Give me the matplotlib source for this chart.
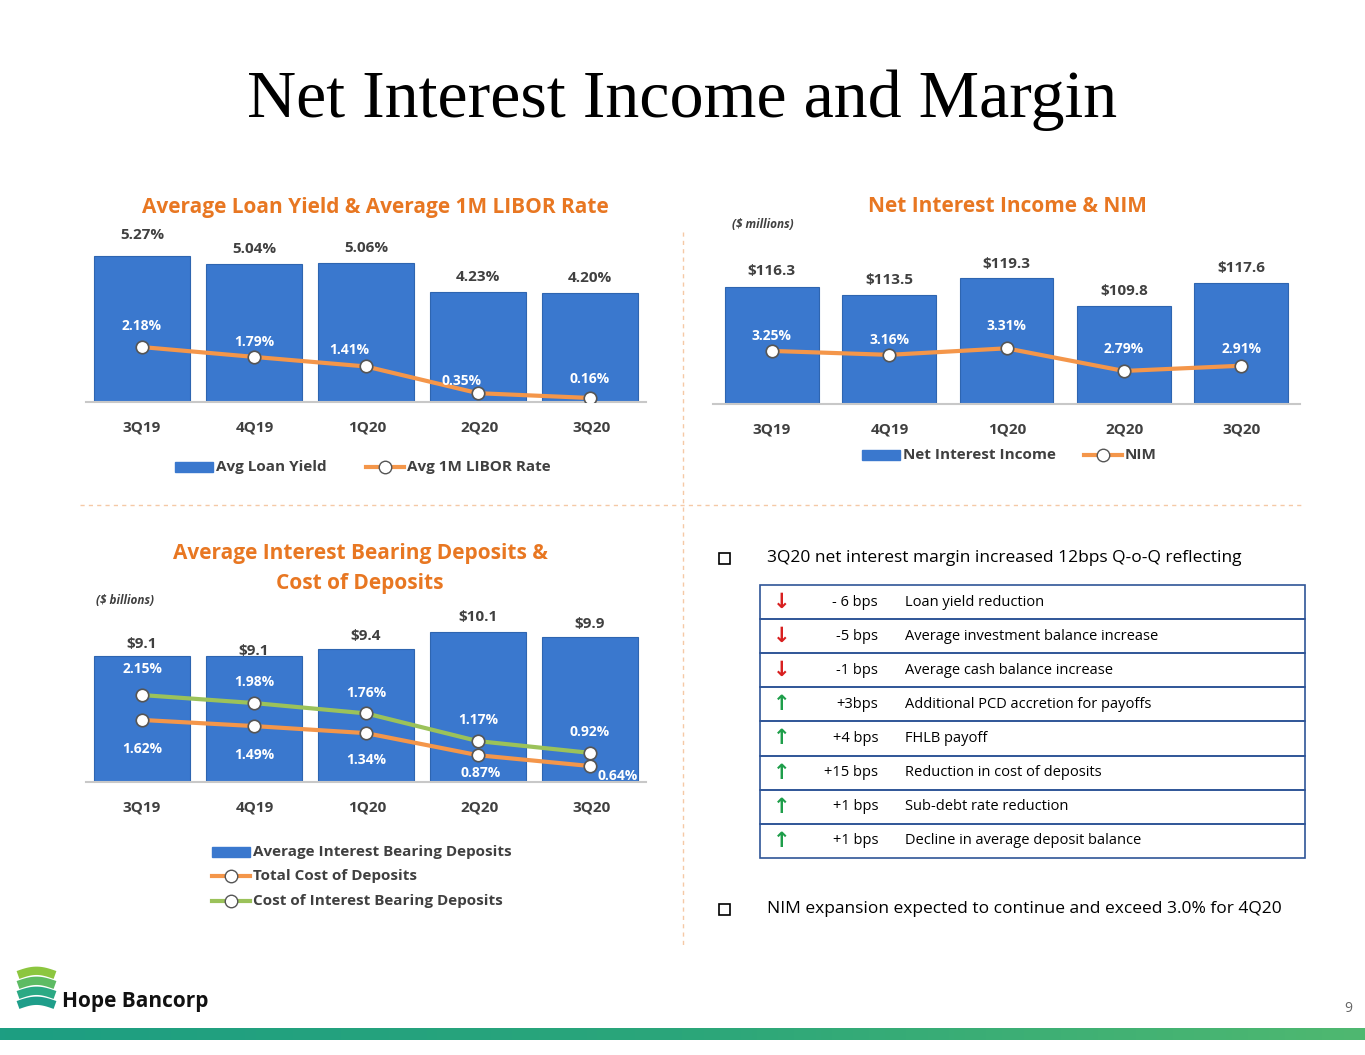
import matplotlib
matplotlib.use("Agg")
import matplotlib.pyplot as plt
import numpy as np
from matplotlib.lines import Line2D
from matplotlib.patches import Rectangle
from matplotlib.colors import LinearSegmentedColormap

quarters = ["3Q19", "4Q19", "1Q20", "2Q20", "3Q20"]
loan_yield = [5.27, 5.04, 5.06, 4.23, 4.20]
libor = [2.18, 1.79, 1.41, 0.35, 0.16]
nii = [116.3, 113.5, 119.3, 109.8, 117.6]
nim = [3.25, 3.16, 3.31, 2.79, 2.91]
deposits = [9.1, 9.1, 9.4, 10.1, 9.9]
total_cost = [1.62, 1.49, 1.34, 0.87, 0.64]
ib_cost = [2.15, 1.98, 1.76, 1.17, 0.92]
table_dir = ["down", "down", "down", "up", "up", "up", "up", "up"]
table_bps = ["- 6 bps", "-5 bps", "-1 bps", "+3bps", "+4 bps", "+15 bps", "+1 bps", "+1 bps"]
table_desc = ["Loan yield reduction", "Average investment balance increase",
              "Average cash balance increase", "Additional PCD accretion for payoffs",
              "FHLB payoff", "Reduction in cost of deposits", "Sub-debt rate reduction",
              "Decline in average deposit balance"]

W, H = 1365, 1055
plt.rcParams['font.family'] = ['Open Sans', 'DejaVu Sans']
fig = plt.figure(figsize=(W/100, H/100), dpi=100)
BLUE = '#3A78CE'; ORANGE = '#F4964A'; GREEN = '#9BC25A'; TORANGE = '#E87722'; TXT = '#404040'

def fx(x): return x / W
def fy(y): return 1 - y / H
def add_ax(l, t, r, b):
    return fig.add_axes([fx(l), fy(b), fx(r) - fx(l), fy(t) - fy(b)])
def ftext(x, y, s, **kw):
    fig.text(fx(x), fy(y), s, **kw)

fig.text(0.5, fy(100), "Net Interest Income and Margin", ha='center', va='center',
         fontsize=49, family='Liberation Serif')

x = np.arange(5)

def style(ax):
    for s in ax.spines.values():
        s.set_visible(False)
    ax.set_yticks([])
    ax.tick_params(length=0)

LKW = dict(lw=3, marker='o', ms=9, mfc='white', mec='#555555', mew=1.2)

# Chart 1
ax1 = add_ax(86, 236, 646, 402)
ax1.bar(x, loan_yield, width=0.85, color=BLUE, edgecolor='#2E65B0', lw=0.8)
ax1.set_ylim(1.05, 1.05 + 166/34.6); ax1.set_xlim(-0.5, 4.5); style(ax1); ax1.set_xticks([])
ax1.plot([-0.5, 4.5], [1.05, 1.05], color='#C8C8C8', lw=1.5, clip_on=False)
a1 = ax1.twinx(); a1.set_ylim(0, 166/25.2); style(a1)
a1.plot(x, libor, color=ORANGE, **LKW)
offy1 = [12, 8, 8, 8, 8]
for i, v in enumerate(loan_yield):
    ax1.annotate(f"{v:.2f}%", (i, v), xytext=(0, offy1[i]), textcoords='offset points',
                 ha='center', fontsize=11, fontweight='bold', color=TXT)
offs1 = [(0, 12), (0, 8), (-12, 9), (-12, 6), (0, 11)]
for i, v in enumerate(libor):
    a1.annotate(f"{v:.2f}%", (i, v), xytext=offs1[i], textcoords='offset points',
                ha='center', fontsize=10, fontweight='bold', color='white')
for i, q in enumerate(quarters):
    ftext(142 + 112.5*i, 427, q, ha='center', va='center', fontsize=11, fontweight='bold', color=TXT)
ftext(375, 208, "Average Loan Yield & Average 1M LIBOR Rate", ha='center', va='center',
      fontsize=15, fontweight='bold', color=TORANGE)

# Chart 2
ax2 = add_ax(713, 236, 1300, 404)
ax2.bar(x, nii, width=0.8, color=BLUE, edgecolor='#2E65B0', lw=0.8)
ax2.set_ylim(76.5, 76.5 + 168/2.95); ax2.set_xlim(-0.5, 4.5); style(ax2); ax2.set_xticks([])
ax2.plot([-0.5, 4.5], [76.5, 76.5], color='#C8C8C8', lw=1.5, clip_on=False)
b2 = ax2.twinx(); b2.set_ylim(2.03, 2.03 + 168/43.5); style(b2)
b2.plot(x, nim, color=ORANGE, **LKW)
offs2t = [(0, 8), (0, 8), (0, 7), (0, 8), (0, 8)]
for i, v in enumerate(nii):
    ax2.annotate(f"${v:.1f}", (i, v), xytext=offs2t[i], textcoords='offset points',
                 ha='center', fontsize=11, fontweight='bold', color=TXT)
offs2 = [(0, 8), (0, 8), (0, 13), (0, 13), (0, 9)]
for i, v in enumerate(nim):
    b2.annotate(f"{v:.2f}%", (i, v), xytext=offs2[i], textcoords='offset points',
                ha='center', fontsize=10, fontweight='bold', color='white')
for i, q in enumerate(quarters):
    ftext(772 + 117.5*i, 430, q, ha='center', va='center', fontsize=11, fontweight='bold', color=TXT)
ftext(1007, 206, "Net Interest Income & NIM", ha='center', va='center',
      fontsize=15, fontweight='bold', color=TORANGE)
ftext(763, 225, "($ millions)", ha='center', va='center', fontsize=8.5, style='italic',
      fontweight='bold', color=TXT)

# Chart 3
ax3 = add_ax(86, 600, 646, 782)
ax3.bar(x, deposits, width=0.85, color=BLUE, edgecolor='#2E65B0', lw=0.8)
ax3.set_ylim(3.85, 3.85 + 182/24); ax3.set_xlim(-0.5, 4.5); style(ax3); ax3.set_xticks([])
ax3.plot([-0.5, 4.5], [3.85, 3.85], color='#C8C8C8', lw=1.5, clip_on=False)
c3 = ax3.twinx(); c3.set_ylim(0.3, 0.3 + 182/47); style(c3)
c3.plot(x, total_cost, color=ORANGE, **LKW)
c3.plot(x, ib_cost, color=GREEN, **LKW)
offs3t = [(0, 6), (0, 1), (0, 6), (0, 8), (0, 6)]
for i, v in enumerate(deposits):
    ax3.annotate(f"${v:.1f}", (i, v), xytext=offs3t[i], textcoords='offset points',
                 ha='center', fontsize=11, fontweight='bold', color=TXT)
oi = [(0, 16), (0, 12), (0, 12), (0, 12), (0, 12)]
for i, v in enumerate(ib_cost):
    c3.annotate(f"{v:.2f}%", (i, v), xytext=oi[i], textcoords='offset points',
                ha='center', fontsize=10, fontweight='bold', color='white')
ot = [(0, -24), (0, -24), (0, -22), (2, -16), (20, -10)]
for i, v in enumerate(total_cost):
    c3.annotate(f"{v:.2f}%", (i, v), xytext=ot[i], textcoords='offset points',
                ha='center', fontsize=10, fontweight='bold', color='white')
for i, q in enumerate(quarters):
    ftext(142 + 112.5*i, 807, q, ha='center', va='center', fontsize=11, fontweight='bold', color=TXT)
ftext(360, 554, "Average Interest Bearing Deposits &", ha='center', va='center',
      fontsize=15, fontweight='bold', color=TORANGE)
ftext(360, 584, "Cost of Deposits", ha='center', va='center',
      fontsize=15, fontweight='bold', color=TORANGE)
ftext(125, 601, "($ billions)", ha='center', va='center', fontsize=8.5, style='italic',
      fontweight='bold', color=TXT)

# Legends (figure level)
def leg_bar(xl, y, label):
    fig.add_artist(Rectangle((fx(xl), fy(y + 5)), fx(38), 10/H, color=BLUE, transform=fig.transFigure))
    ftext(xl + 41, y, label, va='center', fontsize=11, fontweight='bold', color=TXT)
def leg_line(xl, y, label, c):
    fig.add_artist(Line2D([fx(xl), fx(xl + 38)], [fy(y), fy(y)], color=c, lw=3,
                          transform=fig.transFigure))
    fig.add_artist(Line2D([fx(xl + 19)], [fy(y)], marker='o', ms=9, mfc='white', mec='#555555',
                          color=c, transform=fig.transFigure))
    ftext(xl + 41, y, label, va='center', fontsize=11, fontweight='bold', color=TXT)
leg_bar(175, 467, "Avg Loan Yield")
leg_line(366, 467, "Avg 1M LIBOR Rate", ORANGE)
leg_bar(862, 455, "Net Interest Income")
leg_line(1084, 455, "NIM", ORANGE)
leg_bar(212, 852, "Average Interest Bearing Deposits")
leg_line(212, 876, "Total Cost of Deposits", ORANGE)
leg_line(212, 901, "Cost of Interest Bearing Deposits", GREEN)

# Dividers
fig.add_artist(Line2D([fx(683), fx(683)], [fy(232), fy(945)], color='#F5C9A6', lw=1,
                      ls=(0, (3, 3)), transform=fig.transFigure))
fig.add_artist(Line2D([fx(80), fx(1305)], [fy(505), fy(505)], color='#F5C9A6', lw=1,
                      ls=(0, (3, 3)), transform=fig.transFigure))

# Bullets and table
def bullet(y, s):
    fig.add_artist(Rectangle((fx(719), fy(y + 6)), 11/W, 11/H, fill=False, ec='black', lw=1.2,
                             transform=fig.transFigure))
    ftext(767, y, s, va='center', fontsize=12.5, color='black')
bullet(558, "3Q20 net interest margin increased 12bps Q-o-Q reflecting")
bullet(909, "NIM expansion expected to continue and exceed 3.0% for 4Q20")
top, rh = 585, 34.1
for i in range(len(table_bps)):
    yt = top + rh*i
    fig.add_artist(Rectangle((fx(760), fy(yt + rh)), fx(1305) - fx(760), rh/H, fill=False,
                             ec='#2F5597', lw=1.2, transform=fig.transFigure))
    yc = yt + rh/2
    up = table_dir[i] == "up"
    ftext(782, yc, "↑" if up else "↓", ha='center', va='center', fontsize=15, fontweight='heavy',
          family='DejaVu Sans', color='#1E9E4A' if up else '#D82020')
    ftext(878, yc, table_bps[i], ha='right', va='center', fontsize=10.5, color='black')
    ftext(905, yc, table_desc[i], ha='left', va='center', fontsize=10.5, color='black')

# Logo
for k, (yy, c) in enumerate([(975, '#8CC63F'), (985, '#5DBB63'), (995, '#2BA984'), (1005, '#1F9E8A')]):
    xs = np.linspace(fx(18), fx(55), 20)
    ys = fy(yy) + 0.004*np.sin(np.linspace(0, np.pi, 20))
    fig.add_artist(Line2D(xs, ys, color=c, lw=6, transform=fig.transFigure, solid_capstyle='butt'))
ftext(62, 1001, "Hope Bancorp", va='center', fontsize=15, fontweight='bold', color='#111111')
ftext(1352, 1009, "9", ha='right', va='center', fontsize=10, color='#666666')

# Bottom gradient bar
grad = np.linspace(0, 1, 256).reshape(1, -1)
gax = fig.add_axes([0, fy(1040), 1, 12/H]); gax.axis('off')
cm = LinearSegmentedColormap.from_list('g', ['#1D9E82', '#2BA67A', '#4FB870'])
gax.imshow(grad, aspect='auto', cmap=cm)

fig.savefig("out.png", dpi=100)
